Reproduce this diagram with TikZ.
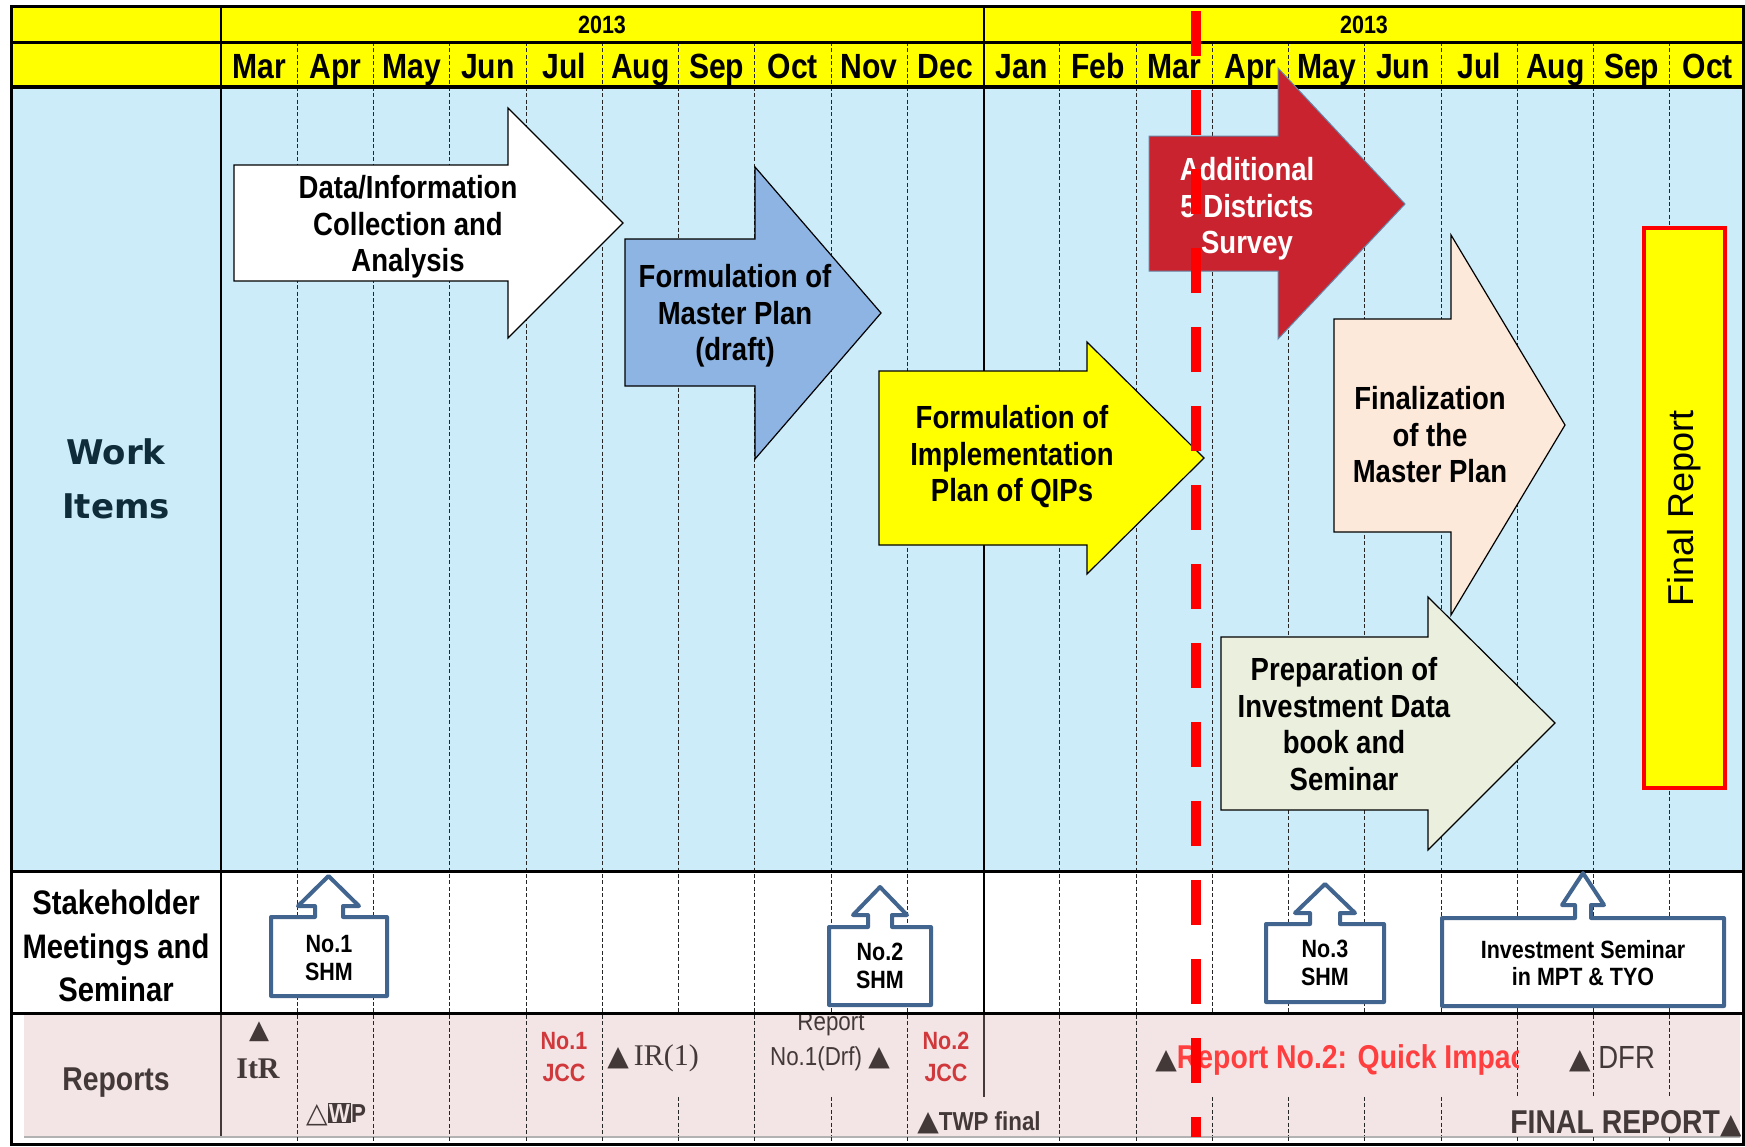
\documentclass[tikz,border=0pt]{standalone}
\usepackage{fontspec}
\setmainfont{Liberation Sans}
\newfontfamily\nf{Liberation Sans}[FakeStretch=0.86]
\newfontfamily\dejav{DejaVu Sans}
\newfontfamily\rserif{Liberation Serif}
\newcommand\tri{{\dejav ▲}}
\newcommand\wtri{{\dejav △}}
\definecolor{hdr}{HTML}{FFFF00}
\definecolor{bodyb}{HTML}{CBECF8}
\definecolor{ablue}{HTML}{8DB4E2}
\definecolor{ared}{HTML}{C8232F}
\definecolor{apeach}{HTML}{FDE9DA}
\definecolor{agreen}{HTML}{EBF0DE}
\definecolor{cblue}{HTML}{41658F}
\definecolor{rpink}{HTML}{F3E5E5}
\definecolor{tgray}{HTML}{443939}
\definecolor{jred}{HTML}{D0383C}
\definecolor{qred}{HTML}{FF3F3F}
\definecolor{wteal}{HTML}{0E2C3A}
\tikzset{
 mon/.style={font=\nf\bfseries\fontsize{17.5}{20}\selectfont, anchor=base, inner sep=0},
 yr/.style={font=\nf\bfseries\fontsize{12.5}{14}\selectfont, anchor=base, inner sep=0},
 grid/.style={line width=0.5pt, dash pattern=on 2pt off 1.2pt, black!85},
 arrowbox/.style={draw=black, line width=0.6pt, line join=miter},
 atxt/.style={align=center, inner sep=0, font=\nf\bfseries\fontsize{16}{18.25}\selectfont},
 callout/.style={draw=cblue, line width=2pt, fill=white, line join=round},
 ctxt/.style={align=center, inner sep=0, font=\nf\bfseries\fontsize{12.5}{13.75}\selectfont},
 rtxt/.style={inner sep=0, text=tgray},
}
\begin{document}
\begin{tikzpicture}[x=0.5pt,y=-0.5pt]
\useasboundingbox (0,0) rectangle (1745,1146);
\fill[white] (0,0) rectangle (1745,1146);
% fills
\fill[hdr] (11,6) rectangle (1743,87);
\fill[bodyb] (11,87) rectangle (1743,871);
\fill[rpink] (24,1015) rectangle (1740,1136);
\draw[black!30, line width=1pt] (24,1137) -- (1740,1137);
% grid lines
\foreach \k in {1,2,3,4,5,6,7,8,9,11,12,13,14,15,16,17,18,19} {
  \draw[grid] ({221+76.25*\k},42) -- ({221+76.25*\k},1013);
  \draw[grid] ({221+76.25*\k},1137) -- ({221+76.25*\k},1144);
}
\foreach \k in {1,2,3,4,5,7,9,11,12} \draw[grid] ({221+76.25*\k},1015) -- ({221+76.25*\k},1136);
\foreach \k in {6,8,13,14,15,16} \draw[grid] ({221+76.25*\k},1097) -- ({221+76.25*\k},1136);
\foreach \k in {17,18,19} \draw[grid] ({221+76.25*\k},1015) -- ({221+76.25*\k},1097);
% solid structure lines
\draw[line width=1pt] (221,6) -- (221,1013);
\draw[line width=1pt, tgray] (221,1013) -- (221,1136);
\draw[line width=1pt] (984,6) -- (984,1013);
\draw[line width=1pt, tgray] (984,1015) -- (984,1097);
\draw[line width=1.5pt] (11,42) -- (1743,42);
\draw[line width=2pt] (11,87) -- (1743,87);
\draw[line width=1.5pt] (11,871) -- (1743,871);
\draw[line width=1.5pt] (11,1013) -- (1743,1013);
\draw[line width=1.5pt] (11,6) rectangle (1743,1144);
% header text
\node[yr] (y1) at (602,33) {2013};
\node[yr] (y2) at (1364,33) {2013};
\foreach \m [count=\i from 0] in {Mar,Apr,May,Jun,Jul,Aug,Sep,Oct,Nov,Dec,Jan,Feb,Mar,Apr,May,Jun,Jul,Aug,Sep,Oct}
  \node[mon] (m\i) at ({221+76.25*(\i+0.5)},78) {\m};
% row labels
\node[align=center, inner sep=0, text=wteal, font=\dejav\bfseries\fontsize{17}{27}\selectfont] (work) at (116,479) {Work\\Items};
\node[align=center, inner sep=0, font=\nf\bfseries\fontsize{17}{21.75}\selectfont] (stake) at (116,946) {Stakeholder\\Meetings and\\Seminar};
\node[rtxt, font=\nf\bfseries\fontsize{16.5}{18}\selectfont] (reports) at (116,1083) {Reports};
% arrows
\draw[arrowbox, fill=white] (234,165) -- (508,165) -- (508,108) -- (623,223) -- (508,338) -- (508,281) -- (234,281) -- cycle;
\draw[arrowbox, fill=ablue] (625,239) -- (755,239) -- (755,167) -- (881,313) -- (755,459) -- (755,386) -- (625,386) -- cycle;
\draw[arrowbox, fill=hdr] (879,371) -- (1087,371) -- (1087,342) -- (1204,458) -- (1087,574) -- (1087,545) -- (879,545) -- cycle;
\draw[draw=cblue!80, line width=0.5pt, fill=ared] (1149,136) -- (1278,136) -- (1278,68) -- (1405,204) -- (1278,339) -- (1278,271) -- (1149,271) -- cycle;
\draw[arrowbox, fill=apeach] (1334,319) -- (1451,319) -- (1451,235) -- (1565,425) -- (1451,615) -- (1451,532) -- (1334,532) -- cycle;
\draw[arrowbox, fill=agreen] (1221,637) -- (1428,637) -- (1428,597) -- (1555,723) -- (1428,850) -- (1428,810) -- (1221,810) -- cycle;
\draw[red, line width=2pt, fill=hdr] (1644,228) rectangle (1725,788);
% arrow texts
\node[atxt] (t1) at (408,227) {Data/Information\\Collection and\\Analysis};
\node[atxt] (t2) at (735,316) {Formulation of\\Master Plan\\(draft)};
\node[atxt] (t3) at (1012,457) {Formulation of\\Implementation\\Plan of QIPs};
\node[atxt, text=white] (t4) at (1247,209) {Additional\\5 Districts\\Survey};
\node[atxt] (t5) at (1430,435) {Finalization\\of the\\Master Plan};
\node[atxt] (t6) at (1344,724) {Preparation of\\Investment Data\\book and\\Seminar};
\node[inner sep=0, rotate=90, font=\fontsize{18}{20}\selectfont] (fr) at (1684,508) {Final Report};
% callouts
\draw[callout] (271,917) -- (315,917) -- (315,906) -- (298,906) -- (328.5,876) -- (359,906) -- (343,906) -- (343,917) -- (387,917) -- (387,996) -- (271,996) -- cycle;
\draw[callout] (829,927) -- (868,927) -- (868,915) -- (853,915) -- (880,887) -- (907,915) -- (892,915) -- (892,927) -- (931,927) -- (931,1005) -- (829,1005) -- cycle;
\draw[callout] (1266,924) -- (1310,924) -- (1310,913) -- (1295,913) -- (1325,884) -- (1355,913) -- (1340,913) -- (1340,924) -- (1384,924) -- (1384,1002) -- (1266,1002) -- cycle;
\draw[callout] (1442,918) -- (1575,918) -- (1575,905) -- (1562,905) -- (1583,873) -- (1604,905) -- (1591,905) -- (1591,918) -- (1724,918) -- (1724,1006) -- (1442,1006) -- cycle;
\node[ctxt] (s1) at (329,958) {No.1\\SHM};
\node[ctxt] (s2) at (880,966) {No.2\\SHM};
\node[ctxt] (s3) at (1325,963) {No.3\\SHM};
\node[ctxt] (s4) at (1583,963) {Investment Seminar\\in MPT \& TYO};
% reports texts
\begin{scope}
\clip (24,1015) rectangle (1740,1136);
\node[rtxt, font=\fontsize{13}{14}\selectfont] (itrt) at (259,1032) {\tri};
\node[rtxt, anchor=base, font=\rserif\bfseries\fontsize{15}{18}\selectfont] (itr) at (258,1078) {ItR};
\node[rtxt, anchor=base, font=\nf\bfseries\fontsize{13}{14}\selectfont] (twp) at (336,1122) {{\fontsize{14}{14}\selectfont\wtri}{\setlength\fboxsep{0.6pt}\colorbox{tgray}{\color{rpink}W}}P};
\node[inner sep=0, align=center, text=jred, font=\nf\bfseries\fontsize{12.5}{16}\selectfont] (jcc1) at (564,1057) {No.1\\JCC};
\node[rtxt, anchor=base, font=\rserif\fontsize{15}{16}\selectfont] (ir1) at (653,1065) {{\fontsize{14}{14}\selectfont\tri}\,IR(1)};
\node[rtxt, anchor=base, font=\nf\fontsize{13}{14}\selectfont] (rep1a) at (831,1030) {Report};
\node[rtxt, anchor=base, font=\nf\fontsize{13}{14}\selectfont] (rep1b) at (830,1065) {No.1(Drf) {\fontsize{14}{14}\selectfont\tri}};
\node[inner sep=0, align=center, text=jred, font=\nf\bfseries\fontsize{12.5}{16}\selectfont] (jcc2) at (946,1057) {No.2\\JCC};
\node[rtxt, anchor=base, font=\nf\bfseries\fontsize{13}{14}\selectfont] (twpf) at (979,1130) {{\fontsize{14}{14}\selectfont\tri}TWP final};
\begin{scope}
\clip (1140,1015) rectangle (1518,1136);
\node[inner sep=0, anchor=base west, text=qred, font=\nf\bfseries\fontsize{16.5}{18}\selectfont] (qip) at (1155,1068) {{\color{tgray}\fontsize{14}{14}\selectfont\tri}Report No.2: Quick Impac};
\end{scope}
\node[rtxt, anchor=base, font=\nf\fontsize{16}{18}\selectfont] (dfr) at (1612,1068) {{\fontsize{14}{14}\selectfont\tri}\ DFR};
\node[rtxt, anchor=base east, font=\nf\bfseries\fontsize{16.5}{18}\selectfont] (final) at (1742,1133) {FINAL REPORT{\fontsize{14}{14}\selectfont\tri}};
\end{scope}
% red dashed cut-off line
\draw[red, line width=5pt, dash pattern=on 22.5pt off 17pt] (1196,11) -- (1196,1137);
\end{tikzpicture}
\end{document}
